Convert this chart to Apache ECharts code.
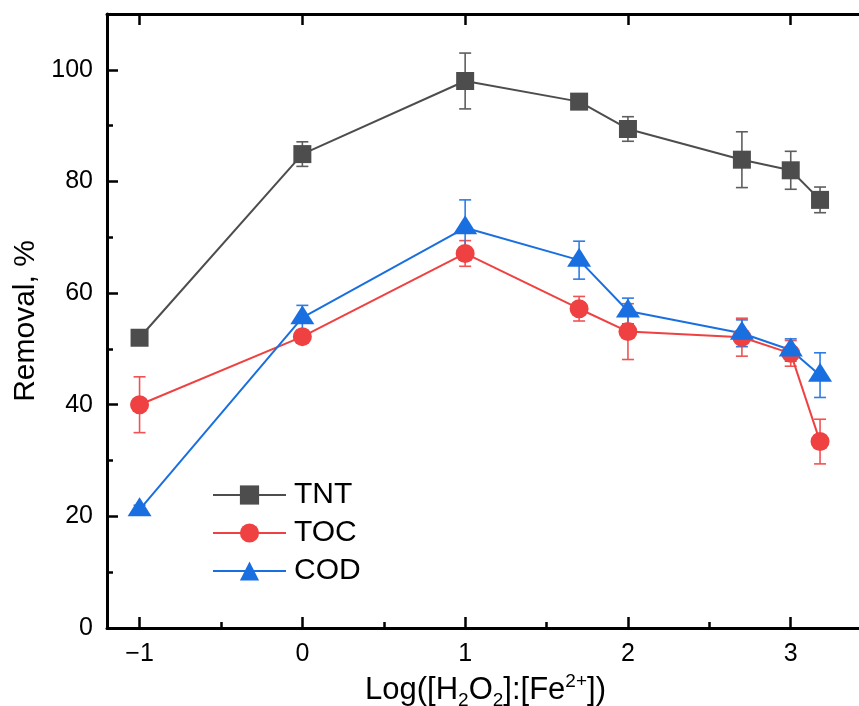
<!DOCTYPE html>
<html>
<head>
<meta charset="utf-8">
<script src="https://cdn.jsdelivr.net/npm/echarts@6/dist/echarts.min.js"></script>
<style>
html,body{margin:0;padding:0;background:#fff;}
#chart{width:859px;height:706px;}
</style>
</head>
<body>
<div id="chart"></div>
<script>
// ---- data ----
var xValues = [-1, 0, 1, 1.7, 2, 2.7, 3, 3.18];
var tntValues = [52.0, 84.9, 98.0, 94.3, 89.4, 83.9, 82.0, 76.7];
var tntErrors = [0, 2.2, 5.0, 0, 2.2, 5.0, 3.4, 2.3];
var tocValues = [40.0, 52.2, 67.1, 57.2, 53.1, 52.1, 49.2, 33.4];
var tocErrors = [5.0, 0, 2.3, 2.2, 5.0, 3.4, 2.3, 4.0];
var codValues = [21.2, 55.6, 71.7, 65.9, 56.8, 52.8, 49.8, 45.3];
var codErrors = [0.8, 2.2, 5.0, 3.4, 2.3, 2.4, 2.0, 4.0];
var xMajorTicks = [-1, 0, 1, 2, 3];
var xMinorTicks = [-0.5, 0.5, 1.5, 2.5];
var yMajorTicks = [0, 20, 40, 60, 80, 100];
var yMinorTicks = [10, 30, 50, 70, 90];
var seriesNames = ['TNT', 'TOC', 'COD'];

var FONT = "'Liberation Sans', Arial, sans-serif";
var colors = {TNT: '#4d4d4d', TOC: '#ef4141', COD: '#1a6fe0'};
var errColors = {TNT: '#5e5e5e', TOC: '#f05353', COD: '#2f7ce3'};

function pts(vals) { return xValues.map(function (x, i) { return [x, vals[i]]; }); }
function errPts(vals, errs) { return xValues.map(function (x, i) { return [x, vals[i], errs[i]]; }); }

function errSeries(name, vals, errs) {
  var c = errColors[name];
  return {
    type: 'custom',
    name: name + '_err',
    xAxisIndex: 0, yAxisIndex: 0,
    data: errPts(vals, errs),
    encode: {x: 0, y: 1},
    silent: true,
    renderItem: function (params, api) {
      var x = api.value(0), y = api.value(1), e = api.value(2);
      if (!e) return null;
      var top = api.coord([x, y + e]);
      var bot = api.coord([x, y - e]);
      var hw = 6;
      var st = {stroke: c, lineWidth: 1.6};
      return {
        type: 'group',
        children: [
          {type: 'line', shape: {x1: top[0], y1: top[1], x2: bot[0], y2: bot[1]}, style: st},
          {type: 'line', shape: {x1: top[0] - hw, y1: top[1], x2: top[0] + hw, y2: top[1]}, style: st},
          {type: 'line', shape: {x1: bot[0] - hw, y1: bot[1], x2: bot[0] + hw, y2: bot[1]}, style: st}
        ]
      };
    }
  };
}

function lineSeries(name, vals, symbol, size, offset) {
  return {
    type: 'line',
    name: name,
    xAxisIndex: 0, yAxisIndex: 0,
    data: pts(vals),
    symbol: symbol,
    symbolSize: size,
    symbolOffset: offset || [0, 0],
    showAllSymbol: true,
    color: colors[name],
    lineStyle: {color: colors[name], width: 2},
    itemStyle: {color: colors[name], borderWidth: 0},
    emphasis: {disabled: true},
    animation: false
  };
}

var xMin = -1.2, xMax = 3.45;
var axisLineStyle = {color: '#000', width: 3};

var option = {
  animation: false,
  backgroundColor: '#fff',
  textStyle: {fontFamily: FONT},
  grid: {left: 107, top: 14, width: 757, height: 614, containLabel: false, outerBoundsMode: 'none'},
  legend: {
    data: seriesNames,
    orient: 'vertical',
    left: 212,
    top: 480,
    padding: 0,
    itemWidth: 73,
    itemHeight: 24,
    itemGap: 8,
    textStyle: {fontSize: 30, color: '#000', fontFamily: FONT, padding: [0, 0, 0, 3]}
  },
  xAxis: [
    {
      type: 'value', min: xMin, max: xMax, position: 'bottom',
      axisLine: {show: true, onZero: false, lineStyle: axisLineStyle},
      axisTick: {show: true, inside: true, length: 11, customValues: xMajorTicks, lineStyle: {color: '#000', width: 2.5}},
      axisLabel: {
        show: true, customValues: xMajorTicks, fontSize: 25, color: '#000', margin: 14, fontFamily: FONT,
        formatter: function (v) { return String(v).replace('-', '\u2212'); }
      },
      splitLine: {show: false},
      name: 'Log([H{sub|2}O{sub|2}]:[Fe{sup|2+}])',
      nameLocation: 'middle',
      nameGap: 36,
      nameTextStyle: {
        fontSize: 31, color: '#000', lineHeight: 38, fontFamily: FONT,
        rich: {
          sub: {fontSize: 19, lineHeight: 19, verticalAlign: 'bottom', color: '#000', fontFamily: FONT},
          sup: {fontSize: 19, lineHeight: 19, verticalAlign: 'top', color: '#000', fontFamily: FONT}
        }
      }
    },
    {
      type: 'value', min: xMin, max: xMax, position: 'bottom',
      axisLine: {show: false, onZero: false},
      axisTick: {show: true, inside: true, length: 6, customValues: xMinorTicks, lineStyle: {color: '#000', width: 2.5}},
      axisLabel: {show: false},
      splitLine: {show: false}
    },
    {
      type: 'value', min: xMin, max: xMax, position: 'top',
      axisLine: {show: true, onZero: false, lineStyle: axisLineStyle},
      axisTick: {show: true, inside: true, length: 11, customValues: xMajorTicks, lineStyle: {color: '#000', width: 2.5}},
      axisLabel: {show: false},
      splitLine: {show: false}
    }
  ],
  yAxis: [
    {
      type: 'value', min: 0, max: 110, position: 'left',
      axisLine: {show: true, onZero: false, lineStyle: axisLineStyle},
      axisTick: {show: true, inside: true, length: 11, customValues: yMajorTicks, lineStyle: {color: '#000', width: 2.5}},
      axisLabel: {show: true, customValues: yMajorTicks, fontSize: 25, color: '#000', margin: 14, fontFamily: FONT},
      splitLine: {show: false},
      name: 'Removal, %',
      nameLocation: 'middle',
      nameGap: 63,
      nameTextStyle: {fontSize: 30, color: '#000', fontFamily: FONT}
    },
    {
      type: 'value', min: 0, max: 110, position: 'left',
      axisLine: {show: false, onZero: false},
      axisTick: {show: true, inside: true, length: 6, customValues: yMinorTicks, lineStyle: {color: '#000', width: 2.5}},
      axisLabel: {show: false},
      splitLine: {show: false}
    }
  ],
  series: [
    errSeries('TNT', tntValues, tntErrors),
    lineSeries('TNT', tntValues, 'rect', 18),
    errSeries('TOC', tocValues, tocErrors),
    lineSeries('TOC', tocValues, 'circle', 19),
    errSeries('COD', codValues, codErrors),
    lineSeries('COD', codValues, 'triangle', [24, 19], [0, -3])
  ]
};

var chart = echarts.init(document.getElementById('chart'), null, {renderer: 'canvas'});
chart.setOption(option);
</script>
</body>
</html>
